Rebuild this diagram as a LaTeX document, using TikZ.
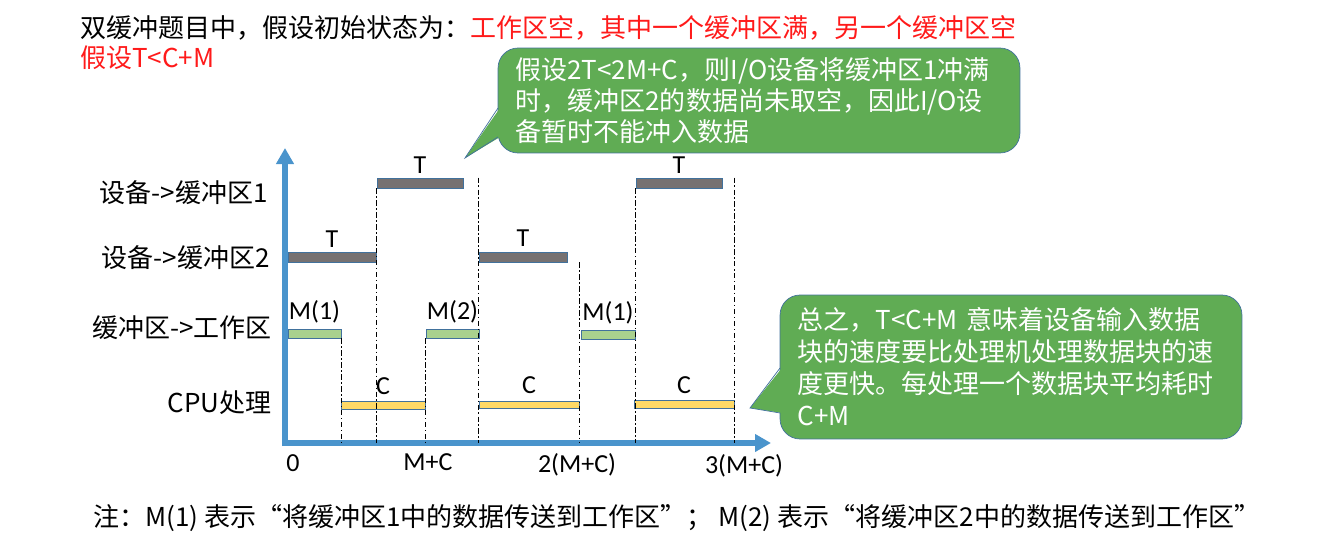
\documentclass[tikz,border=0pt]{standalone}
\usepackage{fontspec}
\setmainfont{Noto Sans CJK SC}
\newfontfamily\latinfont{Carlito}
\usepackage{xcolor}
\usepackage{tikz}
\usetikzlibrary{positioning, arrows.meta, fit}

\definecolor{axisblue}{HTML}{4A94CC}
\definecolor{barline}{HTML}{41719C}
\definecolor{bargray}{HTML}{767171}
\definecolor{bargreen}{HTML}{A9D18E}
\definecolor{baryellow}{HTML}{FFD966}
\definecolor{notegreen}{HTML}{60AC54}
\definecolor{titlered}{HTML}{FF1A1A}

\begin{document}
\begin{tikzpicture}[
        % 以像素为单位的坐标系
        x=0.02cm, y=-0.02cm,
        % 正文文字
        txt/.style={
            inner sep=0pt,
            font=\fontsize{14.8pt}{17.6pt}\selectfont
        },
        % 左侧行标签
        rowlbl/.style={
            txt,
            anchor=east
        },
        % 时间条上方的字母标签
        tag/.style={
            inner sep=0pt,
            font=\latinfont\fontsize{14.8pt}{16pt}\selectfont
        },
        % 时间条样式
        bar/.style={
            draw=barline,
            line width=0.5pt,
            inner sep=0pt
        },
        tbar/.style={bar, fill=bargray},
        mbar/.style={bar, fill=bargreen},
        cbar/.style={bar, fill=baryellow},
        % 坐标轴
        axis/.style={
            axisblue,
            line width=0.11cm,
            -{Triangle[length=0.32cm, width=0.34cm]}
        },
        % 点划辅助线
        guide/.style={
            line width=0.6pt,
            dash pattern=on 3pt off 1.5pt on 0.8pt off 1.5pt
        },
        % 绿色提示框
        note/.style={
            draw=barline,
            fill=notegreen,
            rounded corners=0.4cm,
            text=white,
            align=left,
            inner xsep=0.35cm,
            inner ysep=0pt,
            font=\fontsize{14.8pt}{17.6pt}\selectfont
        },
        noteedge/.style={
            draw=barline,
            line width=0.4pt
        }
    ]

    \useasboundingbox (0,0) rectangle (1322,548);

    % 1. 标题
    \node[txt, anchor=west] (title) at (80,28) {双缓冲题目中，假设初始状态为：\textcolor{titlered}{工作区空，其中一个缓冲区满，另一个缓冲区空}};
    \node[txt, anchor=west, text=titlered] (assume) at (80,58) {假设T<C+M};

    % 2. 坐标轴
    \coordinate (O) at (285,443);
    \coordinate (ytop) at (285,148);
    \coordinate (xend) at (771,443);
    \draw[axis] (O) ++(0,3) -- (ytop);
    \draw[axis] (O) ++(-3,0) -- (xend);

    % 行标签
    \node[rowlbl] (row1) at (268,193) {设备->缓冲区1};
    \node[rowlbl] (row2) at (270,258) {设备->缓冲区2};
    \node[rowlbl] (row3) at (272,328) {缓冲区->工作区};
    \node[rowlbl] (row4) at (272,403) {CPU处理};

    % 3. 时间条
    \node[tbar, fit={(377,178) (463,188)}] (w1a) {};
    \node[tbar, fit={(636,178) (722,188)}] (w1b) {};
    \node[tbar, fit={(288,252) (376,262)}] (w2a) {};
    \node[tbar, fit={(479,252) (567,262)}] (w2b) {};
    \node[mbar, fit={(288,329) (341,338)}] (m1a) {};
    \node[mbar, fit={(426,329) (479,338)}] (m2a) {};
    \node[mbar, fit={(581,330) (635,339)}] (m1b) {};
    \node[cbar, fit={(341,401) (425,409)}] (c1) {};
    \node[cbar, fit={(479,401) (579,408)}] (c2) {};
    \node[cbar, fit={(634,400) (734,408)}] (c3) {};

    \node[tag, above=0.07cm of w1a] {T};
    \node[tag, above=0.07cm of w1b] {T};
    \node[tag, above=0.07cm of w2a] {T};
    \node[tag, above=0.09cm of w2b] {T};
    \node[tag, above=0.1cm of m1a] {M(1)};
    \node[tag, above=0.1cm of m2a] {M(2)};
    \node[tag, above=0.1cm of m1b] {M(1)};
    \node[tag, above=0.12cm of c1] {C};
    \node[tag, above=0.14cm of c2] {C};
    \node[tag, above=0.12cm of c3] {C};

    % 4. 点划辅助线
    \draw[guide] (m1a.south east) -- (m1a.south east |- O);
    \draw[guide] (w1a.south west) -- (w1a.south west |- O);
    \draw[guide] (m2a.south west) -- (m2a.south west |- O);
    \draw[guide] (w2b.west |- w1a.north) -- (w2b.west |- O);
    \draw[guide] (c2.east |- w2b.south) -- (c2.east |- O);
    \draw[guide] (w1b.south west) -- (w1b.south west |- O);
    \draw[guide] (c3.east |- w1a.north) -- (c3.east |- O);

    % 横轴刻度
    \node[tag] (t0) at (293,463) {0};
    \node[tag] (t1) at (428,462) {M+C};
    \node[tag] (t2) at (577,465) {2(M+C)};
    \node[tag] (t3) at (744,466) {3(M+C)};

    % 5. 提示框
    \node[note, minimum width=10.44cm, minimum height=2.1cm, text width=9.74cm] (note1) at (759,100.5)
        {假设2T<2M+C，则I/O设备将缓冲区1冲满\\时，缓冲区2的数据尚未取空，因此I/O设\\备暂时不能冲入数据};
    \coordinate (n1a) at (498,108);
    \coordinate (n1b) at (498,137);
    \coordinate (tip1) at (465,158);
    \fill[notegreen] ([xshift=0.04cm]n1a) -- (tip1) -- ([xshift=0.04cm]n1b) -- cycle;
    \draw[noteedge] (n1a) -- (tip1) -- (n1b);

    \node[note, minimum width=9.24cm, minimum height=2.88cm, text width=8.54cm,
        font=\fontsize{14.8pt}{18.2pt}\selectfont] (note2) at (1011,367)
        {总之，T<C+M 意味着设备输入数据\\块的速度要比处理机处理数据块的速\\度更快。每处理一个数据块平均耗时\\C+M};
    \coordinate (n2a) at (780,368);
    \coordinate (n2b) at (780,413);
    \coordinate (tip2) at (750,408);
    \fill[notegreen] ([xshift=0.04cm]n2a) -- (tip2) -- ([xshift=0.04cm]n2b) -- cycle;
    \draw[noteedge] (n2a) -- (tip2) -- (n2b);

    % 6. 注释
    \node[txt, anchor=west] (remark) at (93,518) {注：M(1) 表示“将缓冲区1中的数据传送到工作区”； M(2) 表示“将缓冲区2中的数据传送到工作区”};

\end{tikzpicture}
\end{document}
